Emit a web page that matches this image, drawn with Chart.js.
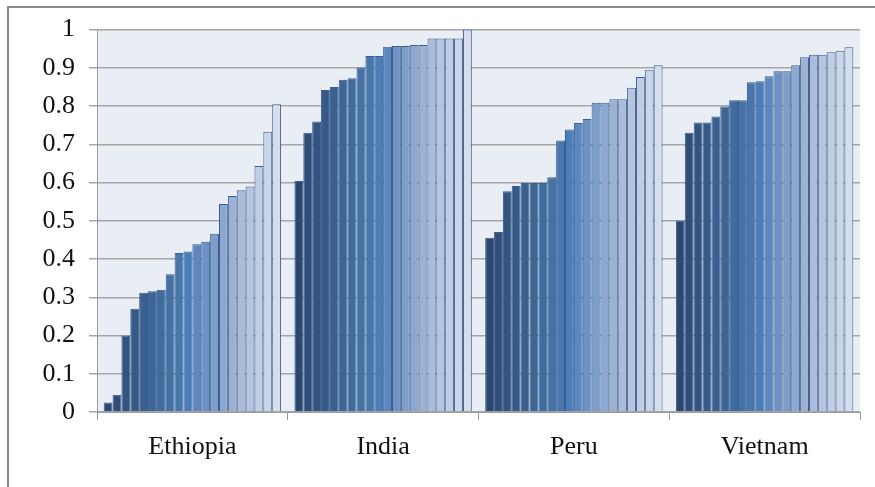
<!DOCTYPE html>
<html>
<head>
<meta charset="utf-8">
<script src="https://cdn.jsdelivr.net/npm/chart.js@4"></script>
<style>
  body { margin: 0; background: #fff; }
  .wrap { position: relative; width: 875px; height: 487px; overflow: hidden; }
  .frame { position: absolute; left: 7px; top: 6px; width: 900px; height: 500px;
           border-top: 2px solid #8c8c8c; border-left: 2px solid #8c8c8c; }
  canvas { position: absolute; left: 0; top: 0; }
</style>
</head>
<body>
<div class="wrap">
  <div class="frame"></div>
  <canvas id="shareChart" width="875" height="487"></canvas>
</div>
<script>
// Categories along the x axis
const countries = ['Ethiopia', 'India', 'Peru', 'Vietnam'];

// 20 sorted values per country
const ethiopia = [0.025, 0.045, 0.20, 0.27, 0.312, 0.316, 0.32, 0.36, 0.416, 0.42,
                  0.439, 0.445, 0.466, 0.544, 0.565, 0.58, 0.59, 0.643, 0.733, 0.805];
const india    = [0.604, 0.73, 0.76, 0.842, 0.85, 0.869, 0.873, 0.901, 0.931, 0.931,
                  0.955, 0.957, 0.957, 0.96, 0.96, 0.977, 0.977, 0.977, 0.977, 1.0];
const peru     = [0.456, 0.471, 0.577, 0.591, 0.599, 0.599, 0.599, 0.614, 0.71, 0.739,
                  0.756, 0.766, 0.809, 0.809, 0.818, 0.818, 0.848, 0.876, 0.894, 0.907];
const vietnam  = [0.501, 0.73, 0.757, 0.757, 0.773, 0.799, 0.815, 0.815, 0.862, 0.865,
                  0.878, 0.891, 0.891, 0.907, 0.928, 0.934, 0.934, 0.941, 0.945, 0.954];

// Bar fills, dark blue through to pale blue
const shades = ['#2d486f', '#304e78', '#335480', '#365a88', '#39608f',
                '#3c6697', '#3f6c9e', '#4272a6', '#4678ae', '#4a7ebb',
                '#5d87c0', '#6d92c6', '#7d9dcb', '#8ca8d0', '#9bb2d5',
                '#a9bcda', '#b5c5df', '#c0cde4', '#cbd5e8', '#d6deed'];

const yTicks = [0, 0.1, 0.2, 0.3, 0.4, 0.5, 0.6, 0.7, 0.8, 0.9, 1];

const datasets = shades.map((color, i) => ({
  label: 'Rank ' + (i + 1),
  data: [ethiopia[i], india[i], peru[i], vietnam[i]],
  backgroundColor: color,
  borderColor: '#3e5f8e',
  borderWidth: 1,
  borderSkipped: 'bottom',
  categoryPercentage: 0.93,
  barPercentage: 1
}));

// Light plot-area fill behind the bars
const plotBackground = {
  id: 'plotBackground',
  beforeDraw(chart) {
    const { ctx, chartArea: a } = chart;
    ctx.save();
    ctx.fillStyle = '#e9edf4';
    ctx.fillRect(a.left, a.top, a.right - a.left, a.bottom - a.top);
    ctx.restore();
  }
};

const serif = { family: "'Liberation Serif', 'Times New Roman', serif", size: 26 };

new Chart(document.getElementById('shareChart'), {
  type: 'bar',
  data: { labels: countries, datasets: datasets },
  plugins: [plotBackground],
  options: {
    responsive: false,
    animation: false,
    layout: { padding: { top: 23, right: 15, left: 0, bottom: 0 } },
    plugins: {
      legend: { display: false },
      tooltip: { enabled: false }
    },
    scales: {
      x: {
        afterFit(scale) { scale.height = 75; },
        grid: { drawOnChartArea: false, tickLength: 8, color: '#9a9a9a', lineWidth: 1 },
        border: { color: '#9a9a9a', width: 1 },
        ticks: { color: '#111', font: serif, padding: 12 }
      },
      y: {
        min: 0,
        max: 1,
        afterFit(scale) { scale.width = 97; },
        afterBuildTicks(scale) { scale.ticks = yTicks.map(v => ({ value: v })); },
        grid: { color: '#a6a6a6', lineWidth: 1.5, tickLength: 8 },
        border: { color: '#9a9a9a', width: 1 },
        ticks: {
          color: '#111',
          font: serif,
          padding: 14,
          callback: v => String(Number(v.toFixed(1)))
        }
      }
    }
  }
});
</script>
</body>
</html>
